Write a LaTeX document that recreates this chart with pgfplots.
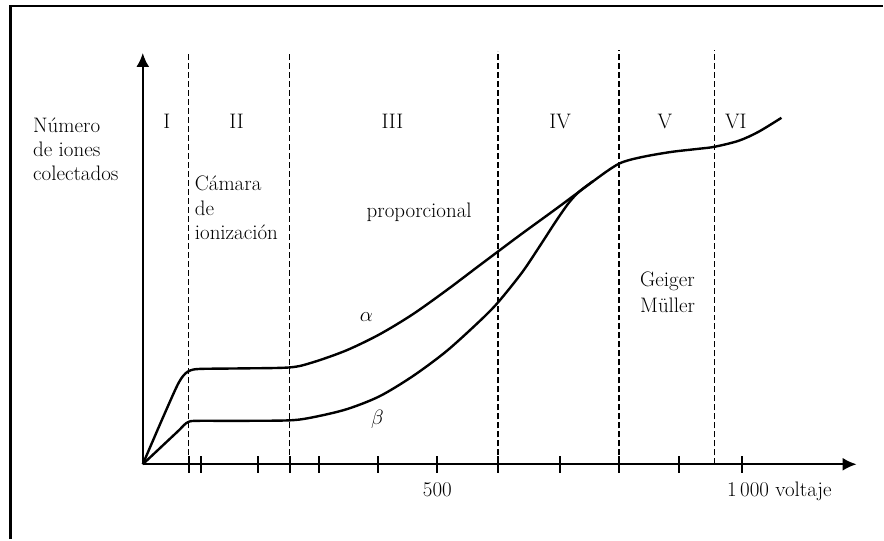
\documentclass[border=0pt]{standalone}
\usepackage{pgfplots}
\pgfplotsset{compat=1.18}
\usetikzlibrary{arrows.meta}
\begin{document}
\begin{tikzpicture}[x=1pt,y=1pt,
  lab/.style={font=\fontsize{21}{25}\selectfont, inner sep=0pt, text=black}]
\path (0,0) rectangle (884,540);
% frame
\draw[line width=2.8pt] (10.5,0) -- (10.5,534) -- (884,534);
\begin{axis}[
  at={(143pt,75pt)}, anchor=south west,
  scale only axis, width=715pt, height=412pt,
  xmin=0, xmax=1186, ymin=0, ymax=412,
  axis x line=bottom, axis y line=left,
  axis line style={line width=2.3pt, -{Latex[length=14pt,width=13pt]}},
  xtick={76,96,191,244,292,390,489,590,693,791,891,995},
  xticklabels={},
  ytick=\empty,
  xtick align=center,
  major tick length=17pt,
  tick style={line width=2pt, black},
  clip=false,
]
% region boundaries
\addplot[black, line width=1.6pt, dash pattern=on 6pt off 3pt] coordinates {(76,0) (76,413)};
\addplot[black, line width=1.6pt, dash pattern=on 6pt off 3pt] coordinates {(244,0) (244,413)};
\addplot[black, line width=1.6pt, dash pattern=on 6pt off 3pt] coordinates {(590,0) (590,414)};
\addplot[black, line width=1.6pt, dash pattern=on 6pt off 3pt] coordinates {(791,0) (791,415)};
\addplot[black, line width=1.6pt, dash pattern=on 6pt off 3pt] coordinates {(950,0) (950,415)};
% alpha
\addplot[black, line width=2.4pt, smooth, tension=0.5] coordinates {
 (0,0) (30,42) (55,76) (64,86) (71,91) (79,94) (95,95.5) (161,96) (244,97)
 (282,102) (338,114) (393,130) (448,150) (504,174) (559,199) (590,213)
 (630,231) (687,256) (736,278) (770,293) (791,301) (810,305) (840,309)
 (880,313) (924,316) (950,318) (990,324) (1023,333) (1061,347)};
% beta
\addplot[black, line width=2.4pt, smooth, tension=0.5] coordinates {
 (0,0) (30,17) (60,34) (68,39) (76,42.5) (90,43.5) (161,43.5) (244,44)
 (282,47) (338,55) (393,68) (448,88) (504,113) (559,143) (590,162)
 (630,192) (659,218) (687,244) (708,262) (725,273) (748,283.5)};
\end{axis}
% texts
\node[lab, anchor=base west] at (33,407) {Número};
\node[lab, anchor=base west] at (33,383) {de iones};
\node[lab, anchor=base west] at (33,359) {colectados};
\node[lab, anchor=base west] at (195,349) {Cámara};
\node[lab, anchor=base west] at (195,324) {de};
\node[lab, anchor=base west] at (195,300) {ionización};
\node[lab, anchor=base west] at (367,322) {proporcional};
\node[lab, anchor=base west] at (641,253) {Geiger};
\node[lab, anchor=base west] at (641,227) {Müller};
\node[lab, anchor=base] at (367,218) {$\alpha$};
\node[lab, anchor=base] at (378,115) {$\beta$};
\node[lab, anchor=base] at (167,411) {I};
\node[lab, anchor=base] at (237,411) {II};
\node[lab, anchor=base] at (393,411) {III};
\node[lab, anchor=base] at (561,411) {IV};
\node[lab, anchor=base] at (666,411) {V};
\node[lab, anchor=base] at (737,411) {VI};
\node[lab, anchor=base] at (438,43) {500};
\node[lab, anchor=base west] at (728,43) {1\,000 voltaje};
\end{tikzpicture}
\end{document}
